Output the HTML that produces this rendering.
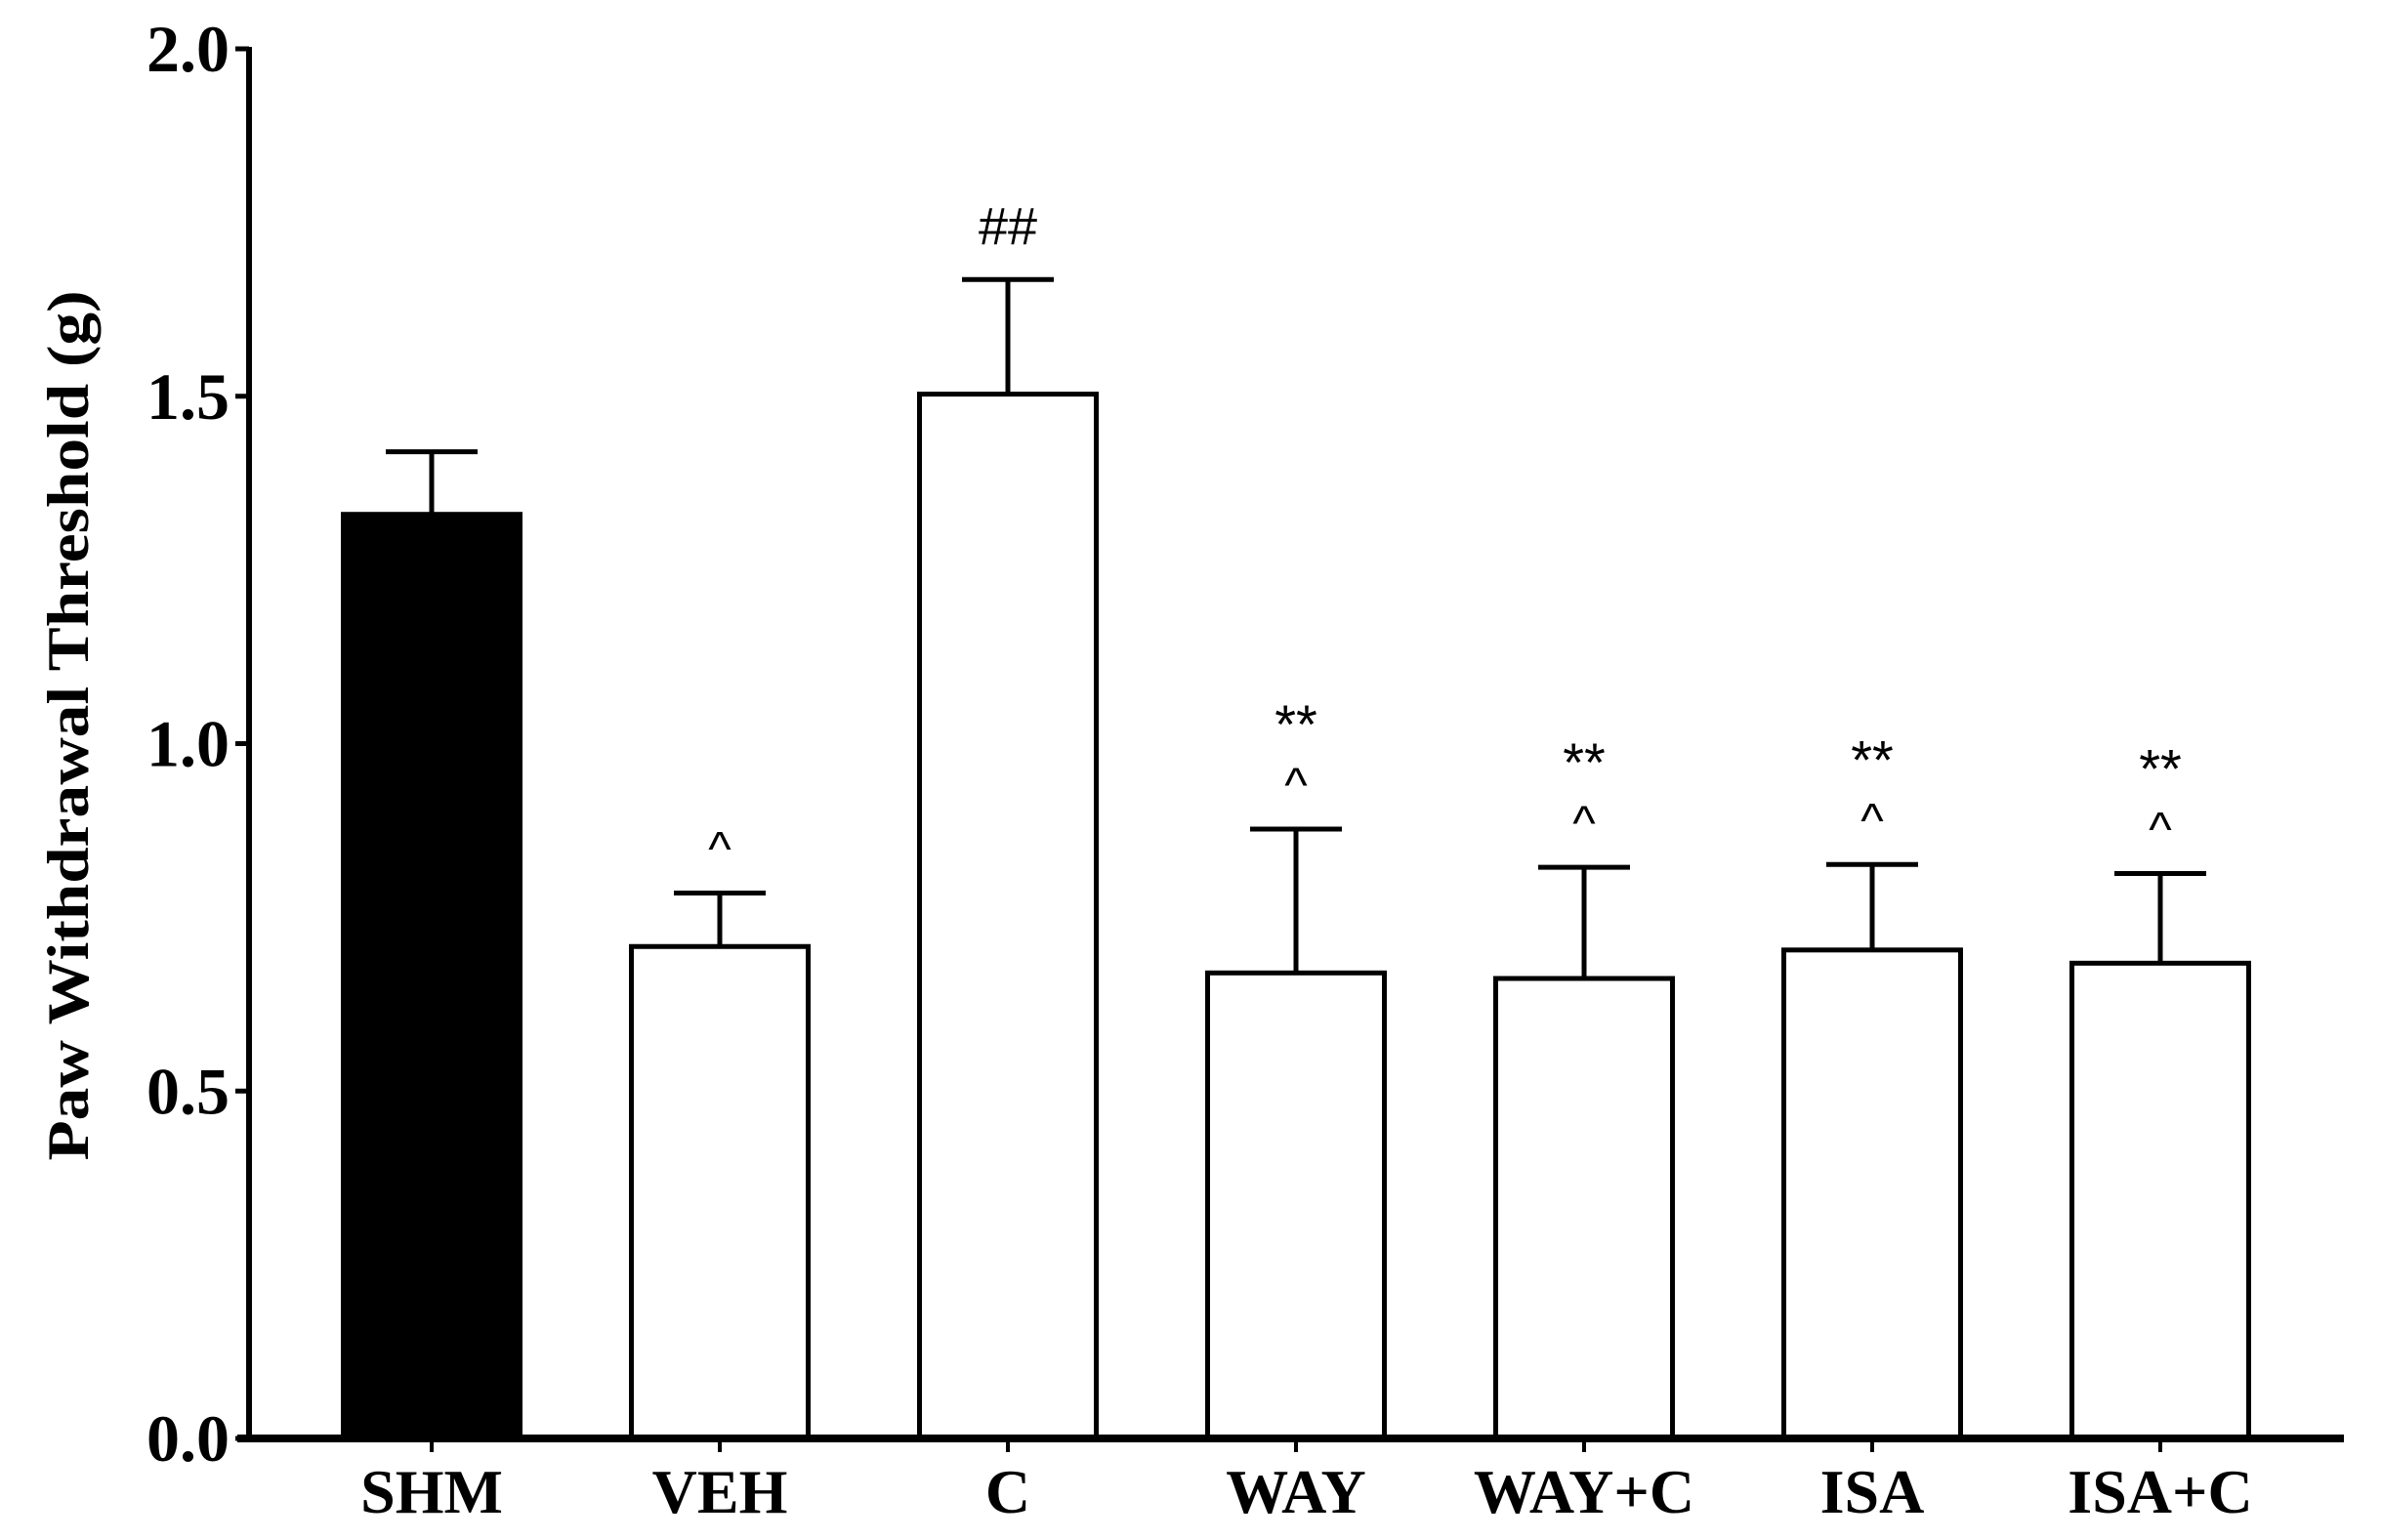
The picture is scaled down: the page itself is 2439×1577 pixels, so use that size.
<!DOCTYPE html>
<html><head><meta charset="utf-8"><style>
html,body{margin:0;padding:0;background:#fff;}
svg{display:block;}
text{font-family:"Liberation Serif",serif;font-weight:bold;fill:#000;}
.ann{font-family:"Liberation Sans",sans-serif;font-weight:normal;}
</style></head><body>
<svg id="chart" width="2439" height="1577" viewBox="0 0 2439 1577" xmlns="http://www.w3.org/2000/svg"></svg>
<script>
const categories = ["SHM","VEH","C","WAY","WAY+C","ISA","ISA+C"];
const means = [1.33, 0.708, 1.503, 0.670, 0.662, 0.703, 0.684];
const errTops = [1.42, 0.785, 1.668, 0.877, 0.822, 0.826, 0.813];
const annotTop = ["", "", "##", "**", "**", "**", "**"];
const annotLow = ["", "^", "", "^", "^", "^", "^"];
const yTicks = [0, 0.5, 1.0, 1.5, 2.0];
const yTickLabels = ["0.0","0.5","1.0","1.5","2.0"];

const NS = "http://www.w3.org/2000/svg";
const svg = document.getElementById("chart");
const X0 = 255, XEND = 2400, Y0 = 1473, Y2 = 50;
const yScale = v => Y0 - (v / 2.0) * (Y0 - Y2);
const firstC = 442, step = 295, barW = 181, capW = 94;
const xScale = i => firstC + i * step;

function mk(tag, attrs, parent) {
  const el = document.createElementNS(NS, tag);
  for (const k in attrs) el.setAttribute(k, attrs[k]);
  (parent || svg).appendChild(el);
  return el;
}

categories.forEach((c, i) => {
  const cx = xScale(i);
  const g = mk("g", {});
  
  
  const ye = yScale(errTops[i]), yb = yScale(means[i]);
  const ln = mk("line", {x1: cx, x2: cx, y1: ye, y2: yb, stroke: "#000", "stroke-width": 5}, g);
  
  
  const cap = mk("line", {x1: cx - capW/2, x2: cx + capW/2, y1: ye, y2: ye, stroke: "#000", "stroke-width": 5}, g);
  
  
  const r = mk("rect", {x: cx - barW/2, y: yb, width: barW, height: Y0 - yb,
    fill: i === 0 ? "#000" : "#fff", stroke: "#000", "stroke-width": 5}, g);
  
  
  if (annotLow[i]) {
    const t = mk("text", {x: cx, y: ye - 28, "text-anchor": "middle", "font-size": 50, class: "ann"}, g);
    t.textContent = annotLow[i];
    
    
  }
  if (annotTop[i]) {
    const isHash = annotTop[i] === "##";
    const t = mk("text", {x: cx, y: isHash ? ye - 36 : ye - 88, "text-anchor": "middle", "font-size": isHash ? 54 : 56, class: "ann"}, g);
    t.textContent = annotTop[i];
    
    
  }
  const tk = mk("line", {x1: cx, x2: cx, y1: Y0, y2: Y0 + 14, stroke: "#000", "stroke-width": 4});
  
  
  const lb = mk("text", {x: cx, y: 1549, "text-anchor": "middle", "font-size": 64});
  lb.textContent = c;
  
  
});

const ya = mk("line", {x1: X0, x2: X0, y1: Y2 - 2, y2: Y0 + 4, stroke: "#000", "stroke-width": 6});


const xa = mk("line", {x1: X0 - 12, x2: XEND, y1: Y0, y2: Y0, stroke: "#000", "stroke-width": 8});



yTicks.forEach((v, i) => {
  const y = yScale(v);
  const t = mk("line", {x1: X0 - 14, x2: X0, y1: y, y2: y, stroke: "#000", "stroke-width": 5});
  
  
  const l = mk("text", {x: X0 - 20, y: y + 23, "text-anchor": "end", "font-size": 68});
  l.textContent = yTickLabels[i];
  
  
});

const title = mk("text", {x: 0, y: 0, "text-anchor": "middle", "font-size": 60,
  transform: "translate(90,743) rotate(-90)", textLength: 891, lengthAdjust: "spacingAndGlyphs"});
title.textContent = "Paw Withdrawal Threshold (g)";


</script>
</body></html>
